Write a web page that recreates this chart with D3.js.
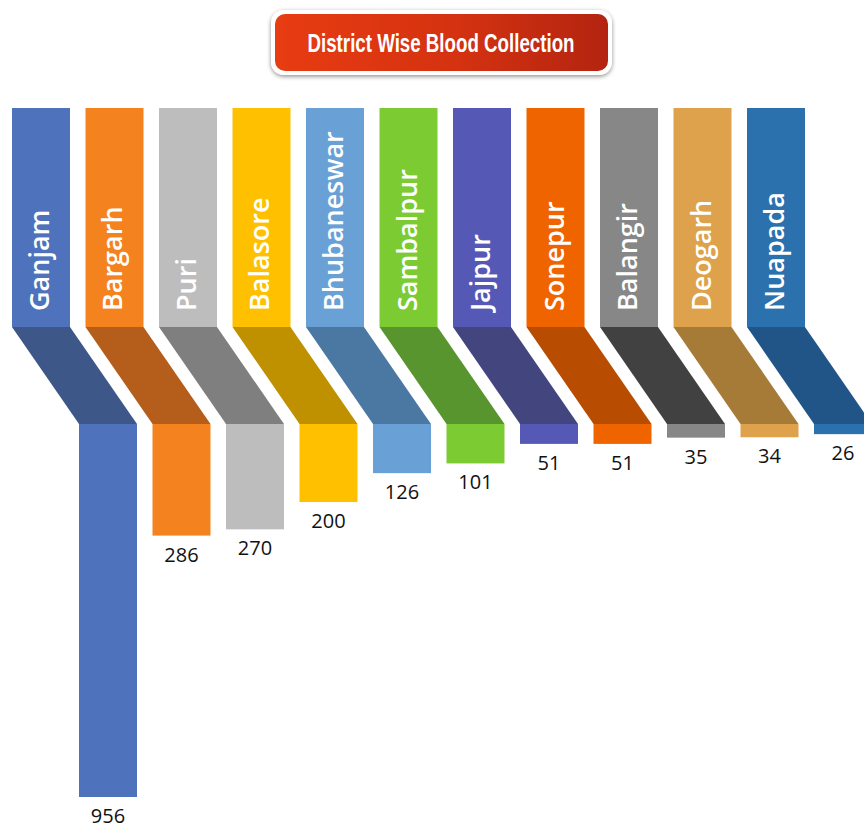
<!DOCTYPE html>
<html>
<head>
<meta charset="utf-8">
<script src="https://cdn.jsdelivr.net/npm/d3@7"></script>
<style>
  body { margin: 0; background: #fff; }
  svg { display: block; }
</style>
</head>
<body>
<script>
var width = 864,
    height = 829;

// data
var districts = ['Ganjam', 'Bargarh', 'Puri', 'Balasore', 'Bhubaneswar', 'Sambalpur',
                 'Jajpur', 'Sonepur', 'Balangir', 'Deogarh', 'Nuapada'];
var collected = [956, 286, 270, 200, 126, 101, 51, 51, 35, 34, 26];

var tabColors = ['#4E72BC', '#F4831F', '#BDBDBD', '#FFC000', '#69A0D5', '#7CCB33',
                 '#5559B5', '#F06400', '#878787', '#DDA24B', '#2A71AD'];
var shadeColors = ['#3E5789', '#B55D1B', '#7F7F7F', '#BF9000', '#4A78A3', '#58952F',
                   '#43457F', '#B84C00', '#414141', '#A67B37', '#215587'];

var tabTop = 108,
    tabBottom = 327,
    barTop = 424,
    shift = 67;

var svg = d3.select('body').append('svg')
    .attr('width', width)
    .attr('height', height);

var defs = svg.append('defs');
var grad = defs.append('linearGradient')
    .attr('id', 'titleGrad')
    .attr('x1', '0%').attr('x2', '100%');
grad.append('stop').attr('offset', '0%').attr('stop-color', '#E83C12');
grad.append('stop').attr('offset', '55%').attr('stop-color', '#D43210');
grad.append('stop').attr('offset', '100%').attr('stop-color', '#B32410');

var shadow = defs.append('filter')
    .attr('id', 'shadow')
    .attr('x', '-10%').attr('y', '-30%')
    .attr('width', '120%').attr('height', '160%');
shadow.append('feDropShadow')
    .attr('dx', 0).attr('dy', 1.5)
    .attr('stdDeviation', 2)
    .attr('flood-color', '#000')
    .attr('flood-opacity', 0.45);

// title button
var title = svg.append('g');
title.append('rect')
    .attr('x', 271).attr('y', 10)
    .attr('width', 341).attr('height', 65)
    .attr('rx', 13)
    .attr('fill', '#fff')
    .attr('filter', 'url(#shadow)');
title.append('rect')
    .attr('x', 275).attr('y', 14)
    .attr('width', 333).attr('height', 57)
    .attr('rx', 10)
    .attr('fill', 'url(#titleGrad)');
title.append('text')
    .attr('x', 441).attr('y', 52)
    .attr('text-anchor', 'middle')
    .attr('textLength', 267)
    .attr('lengthAdjust', 'spacingAndGlyphs')
    .style('font-family', '"Liberation Sans Narrow", "Liberation Sans", Arial, sans-serif')
    .style('font-weight', 'bold')
    .style('font-size', '26px')
    .attr('fill', '#fff')
    .text('District Wise Blood Collection');

var x = d3.scaleBand()
    .domain(districts)
    .range([12, 805])
    .paddingInner(0.211)
    .paddingOuter(0);

var h = d3.scaleLinear()
    .domain([0, 956])
    .range([0, 373]);

var data = districts.map(function(d, i) {
    return {name: d, value: collected[i], color: tabColors[i], shade: shadeColors[i]};
});

var col = svg.append('g').selectAll('g')
    .data(data)
    .enter().append('g');

var bw = x.bandwidth();

// top tab
col.append('rect')
    .attr('x', function(d) { return x(d.name); })
    .attr('y', tabTop)
    .attr('width', bw)
    .attr('height', tabBottom - tabTop)
    .attr('fill', function(d) { return d.color; });

// slanted fold
col.append('path')
    .attr('d', function(d) {
        var x0 = x(d.name);
        return 'M' + x0 + ',' + tabBottom +
            'L' + (x0 + bw) + ',' + tabBottom +
            'L' + (x0 + bw + shift) + ',' + barTop +
            'L' + (x0 + shift) + ',' + barTop + 'Z';
    })
    .attr('fill', function(d) { return d.shade; });

// value bar
col.append('rect')
    .attr('x', function(d) { return x(d.name) + shift; })
    .attr('y', barTop)
    .attr('width', bw)
    .attr('height', function(d) { return h(d.value); })
    .attr('fill', function(d) { return d.color; });

// district name, rotated
col.append('text')
    .attr('transform', function(d) {
        return 'translate(' + (x(d.name) + bw / 2 + 8) + ',' + 311 + ')rotate(-90)';
    })
    .style('font-family', '"Open Sans", "DejaVu Sans", sans-serif')
    .style('font-weight', '600')
    .style('font-size', '27px')
    .attr('fill', '#fff')
    .text(function(d) { return d.name; });

// value label
col.append('text')
    .attr('x', function(d) { return x(d.name) + shift + bw / 2; })
    .attr('y', function(d) { return barTop + h(d.value) + 26; })
    .attr('text-anchor', 'middle')
    .style('font-family', '"Open Sans", "DejaVu Sans", sans-serif')
    .style('font-size', '20px')
    .attr('fill', '#111')
    .text(function(d) { return d.value; });
</script>
</body>
</html>
